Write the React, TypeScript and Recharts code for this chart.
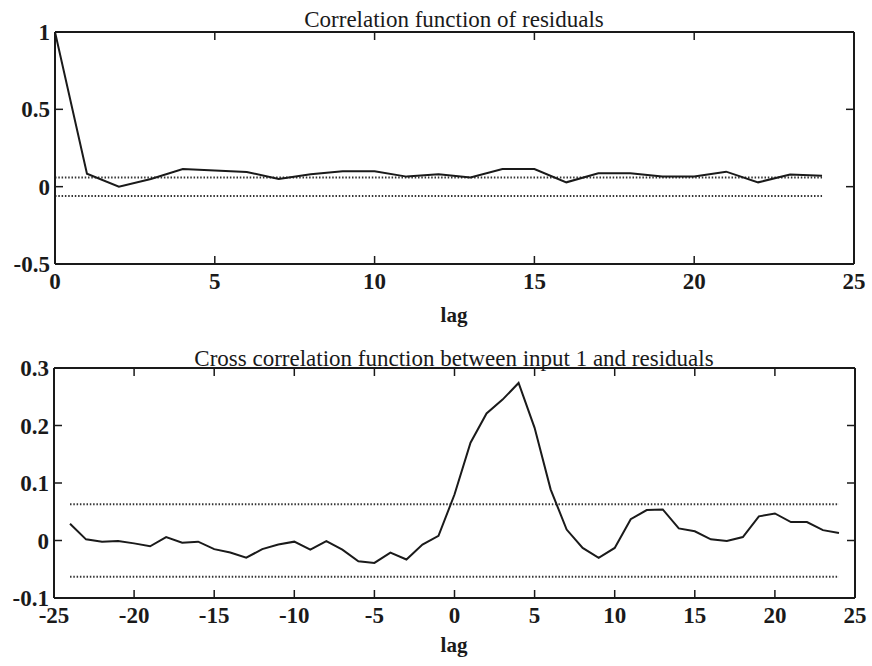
import React from 'react';
import { LineChart, Line, XAxis, YAxis } from 'recharts';

// ---- Data ----
const acfLags = [0, 1, 2, 3, 4, 5, 6, 7, 8, 9, 10, 11, 12, 13, 14, 15, 16, 17, 18, 19, 20, 21, 22, 23, 24];
const acfValues = [1.0, 0.084, 0.0, 0.05, 0.114, 0.105, 0.095, 0.05, 0.08, 0.1, 0.1, 0.065, 0.08, 0.06, 0.114, 0.114, 0.028, 0.086, 0.086, 0.065, 0.065, 0.097, 0.028, 0.078, 0.07];
const acfBound = 0.06;

const ccfLags = [-24, -23, -22, -21, -20, -19, -18, -17, -16, -15, -14, -13, -12, -11, -10, -9, -8, -7, -6, -5, -4, -3, -2, -1, 0, 1, 2, 3, 4, 5, 6, 7, 8, 9, 10, 11, 12, 13, 14, 15, 16, 17, 18, 19, 20, 21, 22, 23, 24];
const ccfValues = [0.029, 0.002, -0.002, -0.001, -0.005, -0.01, 0.006, -0.004, -0.002, -0.015, -0.021, -0.03, -0.015, -0.007, -0.002, -0.016, -0.001, -0.016, -0.036, -0.039, -0.021, -0.033, -0.007, 0.008, 0.08, 0.17, 0.221, 0.245, 0.274, 0.196, 0.089, 0.019, -0.013, -0.03, -0.013, 0.037, 0.053, 0.054, 0.021, 0.016, 0.002, -0.001, 0.006, 0.042, 0.047, 0.032, 0.032, 0.018, 0.013];
const ccfBound = 0.063;

const acfXTicks = [0, 5, 10, 15, 20, 25];
const acfYTicks = [-0.5, 0, 0.5, 1];
const ccfXTicks = [-25, -20, -15, -10, -5, 0, 5, 10, 15, 20, 25];
const ccfYTicks = [-0.1, 0, 0.1, 0.2, 0.3];

const acfTitle = 'Correlation function of residuals';
const ccfTitle = 'Cross correlation function between input 1 and residuals';
const xLabel = 'lag';

const acfData = acfLags.map((lag, i) => ({ lag, r: acfValues[i], upper: acfBound, lower: -acfBound }));
const ccfData = ccfLags.map((lag, i) => ({ lag, r: ccfValues[i], upper: ccfBound, lower: -ccfBound }));

// ---- Styling ----
const FONT = '"Liberation Serif", "Times New Roman", serif';
const INK = '#1a1a1a';
const TICK_LEN = 8;
const TICK_FS = 23;

const makeTick = (side: 'bottom' | 'top' | 'left' | 'right', showLabel: boolean) => (props: any) => {
  const { x, y, payload } = props;
  let line;
  let label = null;
  if (side === 'bottom') {
    line = <line x1={x} x2={x} y1={y} y2={y - TICK_LEN} stroke={INK} strokeWidth={1.5} />;
    if (showLabel)
      label = (
        <text x={x} y={y + 25} textAnchor="middle" fontFamily={FONT} fontWeight="bold" fontSize={TICK_FS} fill={INK}>
          {String(payload.value)}
        </text>
      );
  } else if (side === 'top') {
    line = <line x1={x} x2={x} y1={y} y2={y + TICK_LEN} stroke={INK} strokeWidth={1.5} />;
  } else if (side === 'left') {
    line = <line x1={x} x2={x + TICK_LEN} y1={y} y2={y} stroke={INK} strokeWidth={1.5} />;
    if (showLabel)
      label = (
        <text x={x - 5} y={y + 8} textAnchor="end" fontFamily={FONT} fontWeight="bold" fontSize={TICK_FS} fill={INK}>
          {String(payload.value)}
        </text>
      );
  } else {
    line = <line x1={x} x2={x - TICK_LEN} y1={y} y2={y} stroke={INK} strokeWidth={1.5} />;
  }
  return (
    <g>
      {line}
      {label}
    </g>
  );
};

const Panel = ({
  data,
  width,
  height,
  margin,
  xDomain,
  yDomain,
  xTicks,
  yTicks,
}: any) => (
  <LineChart width={width} height={height} data={data} margin={margin}>
    <XAxis
      xAxisId="b"
      type="number"
      dataKey="lag"
      domain={xDomain}
      ticks={xTicks}
      interval={0}
      allowDataOverflow
      height={1}
      tickSize={0}
      tickMargin={0}
      tickLine={false}
      axisLine={{ stroke: INK, strokeWidth: 2 }}
      tick={makeTick('bottom', true)}
    />
    <XAxis
      xAxisId="t"
      orientation="top"
      type="number"
      dataKey="lag"
      domain={xDomain}
      ticks={xTicks}
      interval={0}
      allowDataOverflow
      height={1}
      tickSize={0}
      tickMargin={0}
      tickLine={false}
      axisLine={{ stroke: INK, strokeWidth: 2 }}
      tick={makeTick('top', false)}
    />
    <YAxis
      yAxisId="l"
      type="number"
      domain={yDomain}
      ticks={yTicks}
      interval={0}
      allowDataOverflow
      width={1}
      tickSize={0}
      tickMargin={0}
      tickLine={false}
      axisLine={{ stroke: INK, strokeWidth: 2 }}
      tick={makeTick('left', true)}
    />
    <YAxis
      yAxisId="r"
      orientation="right"
      type="number"
      domain={yDomain}
      ticks={yTicks}
      interval={0}
      allowDataOverflow
      width={1}
      tickSize={0}
      tickMargin={0}
      tickLine={false}
      axisLine={{ stroke: INK, strokeWidth: 2 }}
      tick={makeTick('right', false)}
    />
    <Line xAxisId="b" yAxisId="l" dataKey="upper" stroke="#333" strokeWidth={2} strokeDasharray="1.5 1.8" dot={false} isAnimationActive={false} />
    <Line xAxisId="b" yAxisId="l" dataKey="lower" stroke="#333" strokeWidth={2} strokeDasharray="1.5 1.8" dot={false} isAnimationActive={false} />
    <Line xAxisId="b" yAxisId="l" dataKey="r" stroke={INK} strokeWidth={2} dot={false} isAnimationActive={false} />
  </LineChart>
);

const textStyle = (top: number, fontSize: number, bold: boolean): React.CSSProperties => ({
  position: 'absolute',
  left: 0,
  width: 908,
  top,
  fontFamily: FONT,
  fontSize,
  lineHeight: `${fontSize}px`,
  fontWeight: bold ? 'bold' : 'normal',
  textAlign: 'center',
  color: INK,
  whiteSpace: 'nowrap',
});

export default function App() {
  return (
    <div style={{ position: 'absolute', left: 0, top: 0, width: 872, height: 666, background: '#fff', overflow: 'hidden' }}>
      <div style={{ position: 'absolute', left: 0, top: 0 }}>
        <Panel
          data={acfData}
          width={872}
          height={340}
          margin={{ top: 31, right: 17, bottom: 75, left: 54 }}
          xDomain={[0, 25]}
          yDomain={[-0.5, 1]}
          xTicks={acfXTicks}
          yTicks={acfYTicks}
        />
      </div>
      <div style={{ position: 'absolute', left: 0, top: 340 }}>
        <Panel
          data={ccfData}
          width={872}
          height={326}
          margin={{ top: 27, right: 16, bottom: 67, left: 53 }}
          xDomain={[-25, 25]}
          yDomain={[-0.1, 0.3]}
          xTicks={ccfXTicks}
          yTicks={ccfYTicks}
        />
      </div>
      <div style={textStyle(8, 23, false)}>{acfTitle}</div>
      <div style={textStyle(305, 21, true)}>{xLabel}</div>
      <div style={textStyle(347, 23, false)}>{ccfTitle}</div>
      <div style={textStyle(635, 21, true)}>{xLabel}</div>
    </div>
  );
}
